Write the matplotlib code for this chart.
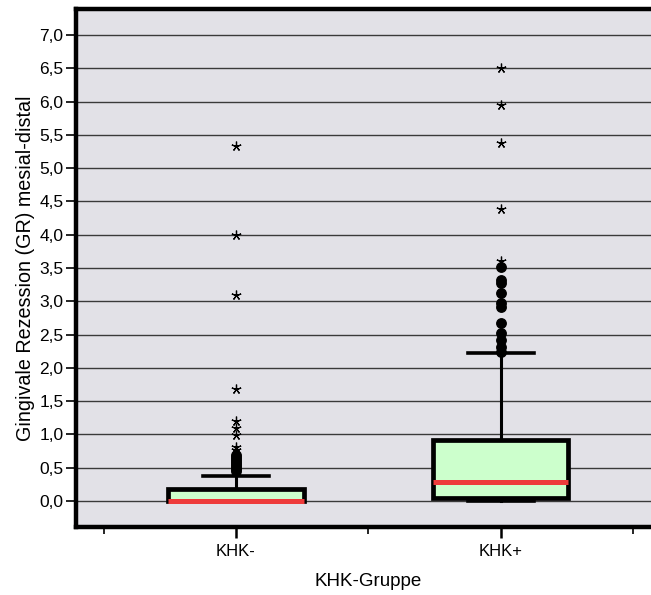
import matplotlib
matplotlib.use("Agg")
import matplotlib.pyplot as plt
from matplotlib.ticker import FixedLocator, FuncFormatter

plt.rcParams["font.family"] = ["Liberation Sans", "DejaVu Sans"]

gruppen = ["KHK-", "KHK+"]
q1 = [0.0, 0.04]
median = [0.0, 0.29]
q3 = [0.18, 0.92]
whisker_lo = [0.0, 0.0]
whisker_hi = [0.38, 2.22]

# Ausreisser (Kreise) und Extremwerte (Sterne)
ausreisser = [
    [0.45, 0.48, 0.51, 0.54, 0.57, 0.60, 0.63, 0.66, 0.69],
    [2.24, 2.32, 2.42, 2.52, 2.67, 2.92, 2.97, 3.12, 3.27, 3.32, 3.51],
]
extremwerte = [
    [0.77, 0.81, 0.99, 1.09, 1.20, 1.68, 3.10, 3.99, 5.33],
    [3.61, 4.39, 5.38, 5.95, 6.50],
]

fig = plt.figure(figsize=(6.51, 5.95), dpi=100)
ax = fig.add_axes([0.1167, 0.1143, 0.8986, 0.8706])
ax.set_facecolor("#e2e1e7")

ax.yaxis.grid(True, color="#3a3a3a", linewidth=1.0)
ax.set_axisbelow(True)

stats = []
for i in range(len(gruppen)):
    stats.append({"label": gruppen[i], "q1": q1[i], "med": median[i], "q3": q3[i],
                  "whislo": whisker_lo[i], "whishi": whisker_hi[i], "fliers": []})

ax.bxp(stats, positions=[1, 2], widths=0.51, patch_artist=True, showfliers=False,
       boxprops=dict(facecolor="#ccffcc", edgecolor="black", linewidth=3.4),
       medianprops=dict(color="#ee3b3b", linewidth=3.6, solid_capstyle="butt"),
       whiskerprops=dict(color="black", linewidth=2.2),
       capprops=dict(color="black", linewidth=2.6),
       capwidths=0.25, zorder=3)

for i in range(len(gruppen)):
    ax.plot([i + 1] * len(ausreisser[i]), ausreisser[i], "o", color="black",
            markersize=6.8, zorder=4)
    ax.plot([i + 1] * len(extremwerte[i]), extremwerte[i], linestyle="none",
            marker=(5, 2, 0), color="black", markersize=7, markeredgewidth=0.9, zorder=4)

ax.set_xlim(0.396, 2.604)
ax.set_ylim(-0.39, 7.39)
ax.set_xticks([1, 2])
ax.set_xticklabels(gruppen)
ax.xaxis.set_minor_locator(FixedLocator([0.5, 1.5, 2.5]))
ax.set_yticks([i * 0.5 for i in range(15)])
ax.yaxis.set_major_formatter(FuncFormatter(lambda v, p: f"{v:.1f}".replace(".", ",")))

ax.tick_params(axis="y", direction="out", length=7, width=1.2, labelsize=12.5, pad=2)
ax.tick_params(axis="x", which="major", direction="out", length=8, width=1.8,
               labelsize=12, pad=4)
ax.tick_params(axis="x", which="minor", direction="out", length=5, width=1.2)

for s in ["left", "bottom", "top"]:
    ax.spines[s].set_linewidth(3.2)
ax.spines["right"].set_visible(False)

ax.set_xlabel("KHK-Gruppe", fontsize=13.5, labelpad=10)
ax.set_ylabel("Gingivale Rezession (GR) mesial-distal", fontsize=14.2, labelpad=3)

fig.savefig("out.png", dpi=100)
